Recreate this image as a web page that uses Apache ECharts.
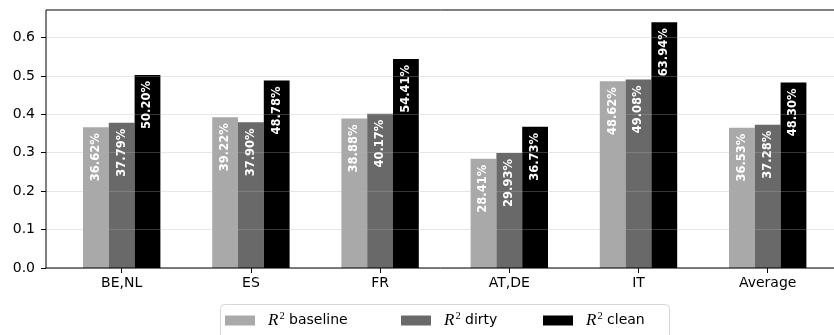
<!DOCTYPE html>
<html>
<head>
<meta charset="utf-8">
<script src="https://cdn.jsdelivr.net/npm/echarts@6/dist/echarts.min.js"></script>
<style>html,body{margin:0;padding:0;background:#fff;}#chart{width:834px;height:335px;}</style>
</head>
<body>
<div id="chart"></div>
<script>
const categories = ['BE,NL', 'ES', 'FR', 'AT,DE', 'IT', 'Average'];
const baseline = [0.3662, 0.3922, 0.3888, 0.2841, 0.4862, 0.3653];
const dirty    = [0.3779, 0.3790, 0.4017, 0.2993, 0.4908, 0.3728];
const clean    = [0.5020, 0.4878, 0.5441, 0.3673, 0.6394, 0.4830];
const yTicks   = [0, 0.1, 0.2, 0.3, 0.4, 0.5, 0.6];
const seriesNames = ['baseline', 'dirty', 'clean'];
const yMax = 0.6714;

const FONT = 'DejaVu Sans';
const chart = echarts.init(document.getElementById('chart'), null, {renderer: 'canvas'});

function barSeries(name, data, color) {
  return {
    name: name, type: 'bar', xAxisIndex: 1, yAxisIndex: 1,
    data: data, barWidth: 25.8, barGap: '0%',
    itemStyle: {color: color},
    label: {
      show: true, position: 'insideTop', rotate: 90, distance: 6,
      align: 'right', verticalAlign: 'middle',
      color: '#fff', fontWeight: 'bold', fontSize: 11.5, fontFamily: FONT,
      formatter: p => (p.value * 100).toFixed(2) + '%'
    }
  };
}

function legendAt(name, left) {
  return {
    data: [name], left: left, top: 311, padding: 0,
    icon: 'rect', itemWidth: 30, itemHeight: 10, selectedMode: false,
    formatter: n => '{r|R}{s|2}{t| ' + n + '}',
    textStyle: {
      color: '#000', fontFamily: FONT, fontSize: 14,
      rich: {
        r: {fontFamily: 'Liberation Serif', fontStyle: 'italic', fontSize: 17, padding: [0, 0, 0, 8], color: '#000'},
        s: {fontFamily: 'Liberation Serif', fontSize: 10.5, padding: [0, 0, 8, 1], color: '#000'},
        t: {fontFamily: FONT, fontSize: 14, color: '#000'}
      }
    }
  };
}

chart.setOption({
  animation: false,
  backgroundColor: '#fff',
  textStyle: {fontFamily: FONT},
  grid: [
    {left: 46, top: 10, width: 797, height: 258, show: true, borderColor: '#000', borderWidth: 1,
     backgroundColor: 'transparent', z: 10, outerBoundsMode: 'none', containLabel: false},
    {left: 57.1, top: 10, width: 775.2, height: 258, outerBoundsMode: 'none', containLabel: false}
  ],
  xAxis: [
    {type: 'value', gridIndex: 0, min: 0, max: 1, show: false},
    {
      type: 'category', gridIndex: 1, data: categories,
      axisLine: {show: false},
      axisTick: {show: true, alignWithLabel: true, length: 5, lineStyle: {color: '#000'}},
      axisLabel: {color: '#000', fontSize: 14, fontFamily: FONT, margin: 8}
    }
  ],
  yAxis: [
    {
      type: 'value', gridIndex: 0, min: 0, max: yMax, interval: 0.1, z: 5,
      axisLine: {show: false},
      axisTick: {show: true, length: 5, lineStyle: {color: '#000'}, customValues: yTicks},
      axisLabel: {color: '#000', fontSize: 14, fontFamily: FONT, margin: 11,
        customValues: yTicks, formatter: v => v.toFixed(1)},
      splitLine: {show: true, lineStyle: {color: 'rgba(176,176,176,0.3)', width: 1}}
    },
    {type: 'value', gridIndex: 1, min: 0, max: yMax, show: false}
  ],
  legend: [
    legendAt('baseline', 225),
    legendAt('dirty', 401),
    legendAt('clean', 543)
  ],
  graphic: [{
    type: 'rect', z: 1, silent: true,
    shape: {x: 220.5, y: 304.5, width: 449, height: 40, r: 4},
    style: {fill: '#fff', stroke: '#d6d6d6', lineWidth: 1}
  }],
  series: [
    barSeries(seriesNames[0], baseline, '#a9a9a9'),
    barSeries(seriesNames[1], dirty, '#696969'),
    barSeries(seriesNames[2], clean, '#000000')
  ]
});
</script>
</body>
</html>
